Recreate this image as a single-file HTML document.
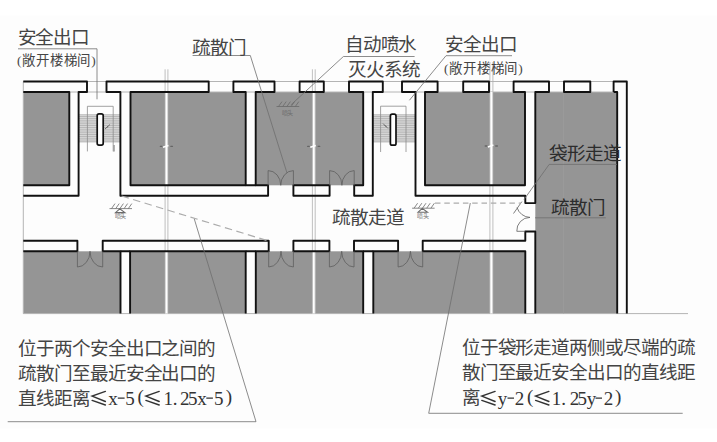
<!DOCTYPE html>
<html lang="zh-CN">
<head>
<meta charset="utf-8">
<style>
html,body{margin:0;padding:0;background:#fff;}
body{width:717px;height:442px;position:relative;overflow:hidden;}
svg{position:absolute;left:0;top:0;}
.t{position:absolute;font-family:"Liberation Serif",serif;font-size:18.6px;letter-spacing:-1.1px;line-height:24px;color:#444;white-space:nowrap;}
.s{font-size:13.4px;line-height:14px;letter-spacing:0.8px;}
.b{line-height:25px;}
</style>
</head>
<body>
<svg width="717" height="442" viewBox="0 0 717 442">
  <rect x="0" y="15.5" width="717" height="413" fill="#fdfdfd"/>
  <!-- room fills -->
  <g fill="#959595">
    <rect x="23.3" y="92" width="46" height="93.3"/>
    <rect x="130.5" y="92" width="115.2" height="93.3"/>
    <rect x="255.7" y="92" width="107.5" height="93.3"/>
    <rect x="425" y="92" width="100" height="93.3"/>
    <rect x="535.3" y="92" width="81.9" height="221.6"/>
    <rect x="23.3" y="251.3" width="97.2" height="62.3"/>
    <rect x="130.1" y="251.3" width="115.6" height="62.3"/>
    <rect x="255.8" y="251.3" width="107.4" height="62.3"/>
    <rect x="373.3" y="251.3" width="152" height="62.3"/>
  </g>
  <!-- thin lines -->
  <g stroke="#b4b4b4" stroke-width="1" fill="none">
    <path d="M23.3,81.5H627M23.3,92H617M23.3,81.5V313.6M23.3,313.6H688"/>
  </g>
  <!-- axis lines -->
  <g stroke="#fff" stroke-width="3" fill="none">
    <path d="M166.5,92V185.3M166.5,251.3V313.6M313.8,92V185.3M313.8,251.3V313.6M491.4,92V185.3M491.4,251.3V313.6"/>
  </g>
  <g stroke="#b0b0b0" stroke-width="0.8" fill="none">
    <path d="M165.1,69.3V313.3M167.9,69.3V313.3M312.4,69.3V313.3M315.2,69.3V313.3M489.9,62V313.3M492.9,62V313.3"/>
    <path d="M563.5,92V313.3" stroke="#9c9c9c"/>
  </g>
  <g stroke="#666" stroke-width="1.3" fill="none" stroke-linecap="round">
    <path d="M160.3,146.3H162M170.8,146.3H172.5M307.6,146.3H309.3M318.1,146.3H319.8M485.2,146H486.9M495.7,146H497.4"/>
  </g>
  <g stroke="#fff" stroke-width="1.6" fill="none">
    <path d="M163,147.3L168.5,145.4M310.3,147.3L315.8,145.4M487.9,147L493.4,145.1"/>
  </g>
  <!-- stairs -->
  <g>
    <rect x="78.6" y="114.5" width="41.8" height="27.8" fill="#e2e2e2"/>
    <path d="M78.6,114.8H120.4M78.6,116.6H120.4M78.6,118.4H120.4M78.6,120.2H120.4M78.6,122H120.4M78.6,123.8H120.4M78.6,125.6H120.4M78.6,127.4H120.4M78.6,129.2H120.4M78.6,131H120.4M78.6,132.8H120.4M78.6,134.6H120.4M78.6,136.4H120.4M78.6,138.2H120.4M78.6,140H120.4M78.6,141.8H120.4" stroke="#a0a0a0" stroke-width="0.7"/>
    <path d="M87.4,151.4V106.3H113.2V151.4" stroke="#8a8a8a" stroke-width="0.8" fill="none"/>
    <path d="M114,145V151.4" stroke="#999" stroke-width="1.5"/>
    <path d="M105,129L110,124.5M106.5,128L108,126" stroke="#666" stroke-width="0.9"/>
    <rect x="97.2" y="113.8" width="6" height="31.3" rx="1.8" fill="#fff" stroke="#111" stroke-width="1.7"/>
    <rect x="373" y="114.6" width="42.5" height="27.8" fill="#e2e2e2"/>
    <path d="M373,114.8H415.5M373,116.6H415.5M373,118.4H415.5M373,120.2H415.5M373,122H415.5M373,123.8H415.5M373,125.6H415.5M373,127.4H415.5M373,129.2H415.5M373,131H415.5M373,132.8H415.5M373,134.6H415.5M373,136.4H415.5M373,138.2H415.5M373,140H415.5M373,141.8H415.5" stroke="#a0a0a0" stroke-width="0.7"/>
    <path d="M380.6,152V106.2H406V152" stroke="#8a8a8a" stroke-width="0.8" fill="none"/>
    <path d="M383,123.5L388,128.5M384.5,125L386.5,127" stroke="#666" stroke-width="0.9"/>
    <rect x="390.4" y="114.2" width="5.6" height="31" rx="1.8" fill="#fff" stroke="#111" stroke-width="1.7"/>
  </g>
  <!-- walls black -->
  <g stroke="#111" stroke-width="1.9" fill="none" stroke-linejoin="round">
    <path d="M23.3,81.5H87V92H78.6V195.8H23.3"/>
    <path d="M23.3,92H69.3V185.3H23.3"/>
    <path d="M120.4,195.8H268.1V185.3H255.7V92H274.5V81.5H233.4V92H245.7V185.3H130.5V92H208.7V81.5H106.5V92H120.4Z"/>
    <rect x="299.6" y="81.5" width="24.2" height="10.5"/>
    <path d="M349,81.5H382.8V92H372.8V195.8H354.2V185.3H363.2V92H349Z"/>
    <rect x="293.4" y="185.3" width="36.2" height="10.5"/>
    <path d="M415.5,195.8V92H402V81.5H437.6V92H425V185.3H525V92H513.6V81.5H549V92H535.3V203.1H525.3V195.8Z"/>
    <rect x="463.2" y="81.5" width="25.8" height="10.5"/>
    <rect x="564" y="81.5" width="26.3" height="10.5"/>
    <path d="M613.6,92V81.5H626.8V313.6M613.6,92H617.2V313.6"/>
    <path d="M23.3,240.8H77.4V251.3H23.3"/>
    <path d="M120.5,313.6V251.3H102.7V240.8H268.7V251.3H255.8V313.6M130.1,313.6V251.3H245.7V313.6"/>
    <rect x="293.4" y="240.8" width="36" height="10.5"/>
    <path d="M363.2,313.6V251.3H354V240.8H398.1V251.3H373.3V313.6"/>
    <path d="M525.3,313.6V251.3H422.7V240.8H525.3V231.5H535.3V313.6"/>
    <path d="M120.5,251.3H130.1M245.7,251.3H255.8M363.2,251.3H373.3M245.7,185.3H255.7"/>
  </g>
  <!-- doors -->
  <g stroke="#5e5e5e" stroke-width="0.8" fill="none">
    <path d="M268.1,185.3V170.6A12.65,14.7 0 0 1 280.75,185.3M293.4,185.3V170.6A12.65,14.7 0 0 0 280.75,185.3"/>
    <path d="M329.6,185.3V170.6A12.3,14.7 0 0 1 341.9,185.3M354.2,185.3V170.6A12.3,14.7 0 0 0 341.9,185.3"/>
    <path d="M77.4,251.3V267A12.65,15.7 0 0 0 90,251.3M102.7,251.3V267A12.65,15.7 0 0 1 90,251.3"/>
    <path d="M268.7,251.3V267A12.35,15.7 0 0 0 281,251.3M293.4,251.3V267A12.35,15.7 0 0 1 281,251.3"/>
    <path d="M329.4,251.3V267A12.3,15.7 0 0 0 341.7,251.3M354,251.3V267A12.3,15.7 0 0 1 341.7,251.3"/>
    <path d="M398.1,251.3V267A12.35,15.7 0 0 0 410.4,251.3M422.7,251.3V267A12.35,15.7 0 0 1 410.4,251.3"/>
    <path d="M521.9,201.6L513.5,213.5M517,207.5A14,14 0 0 0 530,217.4M525.3,231.3H516.8A13.2,13.2 0 0 1 530,217.4"/>
  </g>
  <!-- dashed lines -->
  <g stroke="#acacac" stroke-width="1.2" fill="none" stroke-dasharray="7.5,4.5">
    <path d="M121.6,196L268.7,241"/>
    <path d="M435,203.1H521" stroke-dasharray="5.5,3.8"/>
  </g>
  <!-- leader lines -->
  <g stroke="#6e6e6e" stroke-width="0.8" fill="none">
    <path d="M18,48.8H97V99.3"/>
    <path d="M192.6,55.5H250.3L287,173"/>
    <path d="M414.6,56.5H343.4L290.8,105"/>
    <path d="M512,55.7H446L409.4,100.3"/>
    <path d="M617,164.4H549.2L524,199.5"/>
    <path d="M535,217.8H605.8"/>
    <path d="M194.3,219L256,421.7H7.7"/>
    <path d="M470.3,203L428.7,413.3H682.7"/>
  </g>
  <!-- sprinklers -->
  <g stroke="#6a6a6a" stroke-width="0.8" fill="none">
    <g id="spr">
      <path d="M109.5,208.6H132M111.5,208.6L115,203.6M115.7,208.6L119.2,203.6M119.9,208.6L123.4,203.6M124.1,208.6L127.6,203.6M128.3,208.6L131.8,203.6"/>
      <path d="M119.7,208.8L115.5,212.6H124.9Z" stroke-width="1.1"/>
    </g>
    <g id="sprt"><text x="120.5" y="218.3" font-size="6" fill="#6a6a6a" stroke="none" text-anchor="middle" font-family="Liberation Sans, sans-serif" letter-spacing="-0.3">喷头</text></g>
    <use href="#spr" transform="translate(302.6,-0.4)"/>
    <use href="#sprt" transform="translate(302.6,-0.4)"/>
    <path d="M276.5,106.5H299.2M278.5,106.5L282,101.6M282.7,106.5L286.2,101.6M286.9,106.5L290.4,101.6M291.1,106.5L294.6,101.6M295.3,106.5L298.8,101.6"/>
    <use href="#sprt" transform="translate(167,-103.5)"/>
  </g>
  <!-- math glyphs -->
  <g stroke="#333" stroke-width="1.4" fill="none" stroke-linecap="round">
    <path d="M105.4,391.4L92.1,396.1L105.4,401.5M92.1,400.4L105.4,405"/>
    <path d="M159.2,391.4L145.9,396.1L159.2,401.5M145.9,400.4L159.2,405"/>
    <path d="M495.1,391.4L481.8,396.1L495.1,401.5M481.8,400.4L495.1,405"/>
    <path d="M548.9,391.4L535.6,396.1L548.9,401.5M535.6,400.4L548.9,405"/>
    <path d="M117.8,398.1H124.6M206.3,398.1H212.9M507.5,398.1H514M595.5,398.1H602" stroke-width="1.2" stroke-linecap="butt"/>
  </g>
  <g font-family="Liberation Serif, serif" font-size="19" fill="#333" text-anchor="middle">
    <text x="112.9" y="404.8">x</text><text x="130" y="404.8">5</text><text x="140.6" y="403.1">(</text>
    <text x="168.3" y="404.8">1</text><text x="175" y="404.8">.</text><text x="184.8" y="404.8">2</text><text x="192.7" y="404.8">5</text><text x="202" y="404.8">x</text><text x="218.8" y="404.8">5</text><text x="228.9" y="403.1">)</text>
    <text x="502.5" y="404.8">y</text><text x="519.6" y="404.8">2</text><text x="530.2" y="403.1">(</text>
    <text x="556.5" y="404.8">1</text><text x="563.6" y="404.8">.</text><text x="574.4" y="404.8">2</text><text x="582.3" y="404.8">5</text><text x="591.6" y="404.8">y</text><text x="608.4" y="404.8">2</text><text x="618.2" y="403.1">)</text>
  </g>
</svg>
<div class="t" style="left:17.5px;top:25.8px">安全出口</div>
<div class="t s" style="left:17px;top:54px">(敞开楼梯间)</div>
<div class="t" style="left:192px;top:36px">疏散门</div>
<div class="t" style="left:344.8px;top:33.3px">自动喷水</div>
<div class="t" style="left:348.3px;top:57.7px">灭火系统</div>
<div class="t" style="left:445px;top:32.8px">安全出口</div>
<div class="t s" style="left:444px;top:62px">(敞开楼梯间)</div>
<div class="t" style="left:549px;top:141.5px;color:#2c2c2c">袋形走道</div>
<div class="t" style="left:551px;top:195.5px;color:#2c2c2c">疏散门</div>
<div class="t" style="left:332.2px;top:206px">疏散走道</div>
<div class="t b" style="left:18.3px;top:335.7px">位于两个安全出口之间的<br>疏散门至最近安全出口的<br>直线距离</div>
<div class="t b" style="left:461.8px;top:335.3px">位于袋形走道两侧或尽端的疏<br>散门至最近安全出口的直线距<br>离</div>
</body>
</html>
